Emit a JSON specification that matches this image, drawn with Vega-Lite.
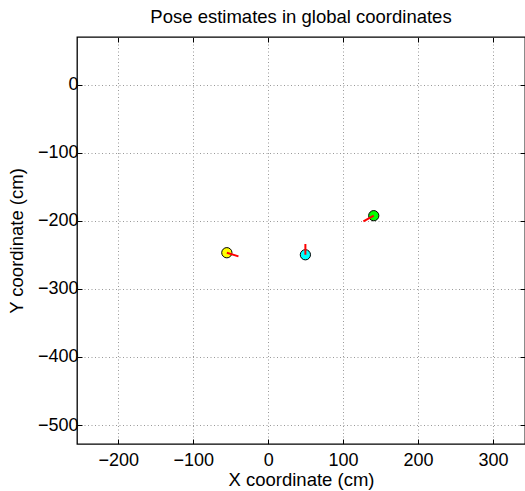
{
  "$schema": "https://vega.github.io/schema/vega-lite/v6.json",
  "autosize": "none",
  "width": 448,
  "height": 407,
  "padding": {"left": 77, "top": 37, "right": 0, "bottom": 47},
  "background": "white",
  "config": {
    "font": "Liberation Sans",
    "view": {"stroke": "black", "strokeWidth": 1.3},
    "axis": {
      "labelFont": "Liberation Sans",
      "titleFont": "Liberation Sans",
      "labelFontSize": 18,
      "titleFontSize": 18.5,
      "titleFontWeight": "normal",
      "labelColor": "black",
      "titleColor": "black",
      "domain": false,
      "tickColor": "black",
      "tickSize": -5,
      "tickWidth": 1,
      "gridColor": "#999999",
      "gridDash": [1, 2.5],
      "gridWidth": 1
    }
  },
  "title": {
    "text": "Pose estimates in global coordinates",
    "font": "Liberation Sans",
    "fontSize": 18.5,
    "fontWeight": "normal",
    "color": "black",
    "offset": 10
  },
  "datasets": {
    "poses": [
      {"robot": "A", "x": -55.1, "y": -246.9, "hx": -39.6, "hy": -252.2},
      {"robot": "B", "x": 49.7, "y": -249.9, "hx": 49.7, "hy": -234.1},
      {"robot": "C", "x": 140.9, "y": -192.5, "hx": 127.1, "hy": -200.7}
    ]
  },
  "resolve": {"axis": {"x": "independent", "y": "independent"}},
  "layer": [
    {
      "data": {"name": "poses"},
      "mark": {"type": "point", "filled": true, "shape": "circle", "size": 105, "stroke": "black", "strokeWidth": 1, "opacity": 1},
      "encoding": {
        "x": {
          "field": "x", "type": "quantitative",
          "scale": {"domain": [-255, 342.7], "nice": false, "zero": false},
          "axis": {"orient": "bottom", "title": "X coordinate (cm)", "values": [-200, -100, 0, 100, 200, 300], "grid": true, "labelPadding": 12, "titlePadding": 1}
        },
        "y": {
          "field": "y", "type": "quantitative",
          "scale": {"domain": [-527.8, 69.9], "nice": false, "zero": false},
          "axis": {"orient": "left", "title": "Y coordinate (cm)", "values": [-500, -400, -300, -200, -100, 0], "grid": true, "labelPadding": 4, "titlePadding": 11}
        },
        "fill": {
          "field": "robot", "type": "nominal",
          "scale": {"domain": ["A", "B", "C"], "range": ["#ffff00", "#00ffff", "#00ff00"]},
          "legend": null
        }
      }
    },
    {
      "data": {"name": "poses"},
      "mark": {"type": "rule", "color": "#ff0000", "strokeWidth": 2},
      "encoding": {
        "x": {
          "field": "x", "type": "quantitative",
          "scale": {"domain": [-255, 342.7], "nice": false, "zero": false},
          "axis": {"orient": "top", "title": null, "labels": false, "grid": false, "values": [-200, -100, 0, 100, 200, 300]}
        },
        "y": {
          "field": "y", "type": "quantitative",
          "scale": {"domain": [-527.8, 69.9], "nice": false, "zero": false},
          "axis": {"orient": "right", "title": null, "labels": false, "grid": false, "values": [-500, -400, -300, -200, -100, 0]}
        },
        "x2": {"field": "hx"},
        "y2": {"field": "hy"}
      }
    }
  ]
}
